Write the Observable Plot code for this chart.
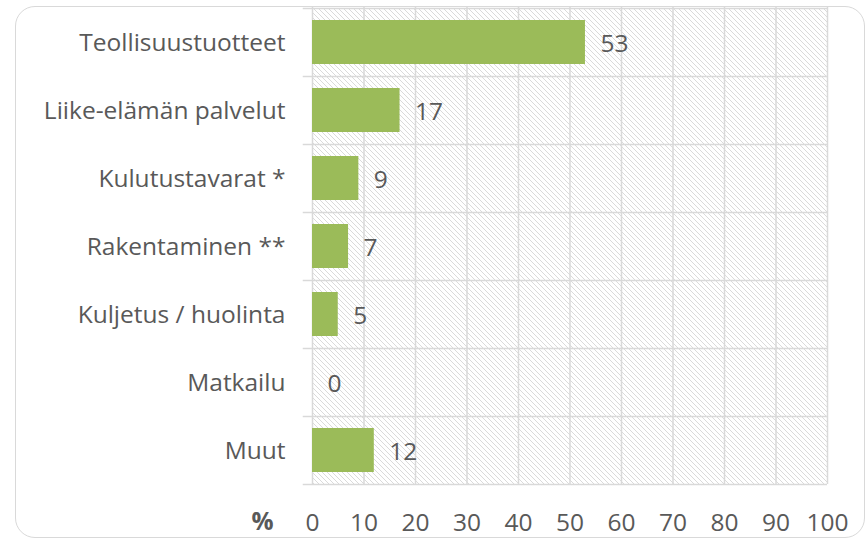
<!DOCTYPE html>
<html><head><meta charset="utf-8">
<script src="https://cdn.jsdelivr.net/npm/d3@7"></script>
<script src="https://cdn.jsdelivr.net/npm/@observablehq/plot@0.6"></script>
<style>
html,body{margin:0;padding:0;background:#fff;}
#wrap{position:relative;width:868px;height:539px;overflow:hidden;}
#border{position:absolute;left:15px;top:6px;width:850px;height:532px;border:1.5px solid #d9d9d9;border-radius:20px;box-sizing:border-box;}
#chart{position:absolute;left:0;top:0;}
</style></head>
<body><div id="wrap"><div id="border"></div><div id="chart"></div></div>
<script>
const categories = ["Teollisuustuotteet","Liike-elämän palvelut","Kulutustavarat *","Rakentaminen **","Kuljetus / huolinta","Matkailu","Muut"];
const values = [53,17,9,7,5,0,12];
const xTicks = [0,10,20,30,40,50,60,70,80,90,100];
const unitLabel = "%";

const data = categories.map((c,i)=>({cat:c, value:values[i]}));
const W=868,H=539,mT=7,mB=55,mL=312,mR=41;
const step=(H-mT-mB)/categories.length;
const font="'Open Sans', sans-serif";
const fs=24.5;

const chart = Plot.plot({
  width:W,height:H,marginTop:mT,marginBottom:mB,marginLeft:mL,marginRight:mR,
  style:{fontFamily:font,fontSize:fs+"px",color:"#595959",background:"transparent"},
  x:{domain:[0,100]},
  y:{domain:categories,padding:0,label:null},
  marks:[
    Plot.barX(categories,{y:d=>d,x1:0,x2:100,fill:"url(#hatch)"}),
    Plot.gridX(xTicks,{stroke:"#d9d9d9",strokeOpacity:1,strokeWidth:1.5}),
    Plot.ruleY(categories,{y:d=>d,x1:-1.8,x2:100,dy:-step/2,stroke:"#d9d9d9",strokeWidth:1.5}),
    Plot.ruleY([categories[categories.length-1]],{y:d=>d,x1:-1.8,x2:100,dy:step/2,stroke:"#d9d9d9",strokeWidth:1.5}),
    Plot.barX(data,{y:"cat",x:"value",fill:"#9bbb59",insetTop:12,insetBottom:12}),
    Plot.text(data,{y:"cat",x:"value",text:d=>String(d.value),dx:15,dy:2,textAnchor:"start",fill:"#595959",fontSize:fs}),
    Plot.axisX(xTicks,{tickSize:0,tickPadding:29,label:null,fontSize:fs,fill:"#595959"}),
    Plot.axisY({tickSize:0,tickPadding:27,label:null,fontSize:fs,fill:"#595959",dy:1}),
    Plot.text([unitLabel],{frameAnchor:"bottom-left",textAnchor:"middle",lineAnchor:"middle",dx:-50,dy:38,fontWeight:"bold",fontSize:fs,fill:"#595959"})
  ]
});
const svg=d3.select(chart);
const defs=svg.insert("defs",":first-child");
const p=defs.append("pattern").attr("id","hatch").attr("patternUnits","userSpaceOnUse").attr("width",5).attr("height",5);
p.append("rect").attr("width",5).attr("height",5).attr("fill","#fff");
p.append("path").attr("d","M0,0L5,5M-1,4L1,6M4,-1L6,1").attr("stroke","#dadada").attr("stroke-width",1);
document.getElementById("chart").appendChild(chart);
</script></body></html>
